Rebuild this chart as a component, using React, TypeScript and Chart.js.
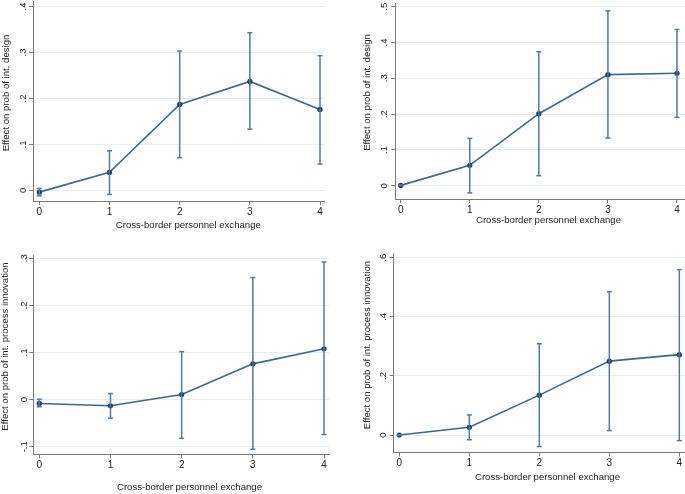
import { useEffect, useRef } from "react";
import { Chart, registerables } from "chart.js";

Chart.register(...registerables);

// x categories: number of cross-border personnel exchange types
const exchangeLevels = [0, 1, 2, 3, 4];

// top left: int. design
const design1Est = [-0.004, 0.039, 0.187, 0.237, 0.176];
const design1Lo = [-0.012, -0.009, 0.071, 0.133, 0.057];
const design1Hi = [0.004, 0.086, 0.303, 0.343, 0.293];
const design1Ticks = [0, 0.1, 0.2, 0.3, 0.4];

// top right: int. design
const design2Est = [0.001, 0.057, 0.201, 0.31, 0.314];
const design2Lo = [0.0, -0.02, 0.028, 0.133, 0.191];
const design2Hi = [0.002, 0.132, 0.374, 0.488, 0.436];
const design2Ticks = [0, 0.1, 0.2, 0.3, 0.4, 0.5];

// bottom left: int. process innovation
const process1Est = [-0.008, -0.013, 0.011, 0.076, 0.108];
const process1Lo = [-0.015, -0.039, -0.082, -0.105, -0.074];
const process1Hi = [0.001, 0.013, 0.102, 0.259, 0.292];
const process1Ticks = [-0.1, 0, 0.1, 0.2, 0.3];

// bottom right: int. process innovation
const process2Est = [0.0, 0.026, 0.135, 0.25, 0.272];
const process2Lo = [-0.001, -0.016, -0.039, 0.015, -0.019];
const process2Hi = [0.001, 0.068, 0.309, 0.485, 0.56];
const process2Ticks = [0, 0.2, 0.4, 0.6];

const xTitle = "Cross-border personnel exchange";
const designTitle = "Effect on prob of int. design";
const processTitle = "Effect on prob of int. process innovation";

const W = 685, H = 494;
const FONT = "'Liberation Sans', Arial, Helvetica, sans-serif";
const lineCol = "#3d6793";
const dotCol = "#1b3c68";
const barCol = "#5279a2";
const axisCol = "#7a7a7a";
const gridCol = "#e4eef2";
const textCol = "#222";

// stata style: ".1", "-.1", "0"
const stataNum = (v: number) => {
  if (Math.abs(v) < 1e-9) return "0";
  const s = String(Math.round(Math.abs(v) * 100) / 100).replace(/^0/, "");
  return (v < 0 ? "-" : "") + s;
};

type Panel = {
  est: number[]; lo: number[]; hi: number[]; yTicks: number[]; yTitle: string;
  axisX: number; topY: number; rightX: number; axisY: number;
  xMin: number; xMax: number; yMin: number; yMax: number;
  tickX: number; titleX: number; titleY: number; xTitleX: number; xTitleY: number;
};

const panels: Panel[] = [
  { est: design1Est, lo: design1Lo, hi: design1Hi, yTicks: design1Ticks, yTitle: designTitle,
    axisX: 33, topY: 1, rightX: 324.5, axisY: 201, xMin: -0.09, xMax: 4.064, yMin: -0.0233, yMax: 0.412,
    tickX: 23, titleX: 6, titleY: 93, xTitleX: 188.3, xTitleY: 225.3 },
  { est: design2Est, lo: design2Lo, hi: design2Hi, yTicks: design2Ticks, yTitle: designTitle,
    axisX: 395.3, topY: 3, rightX: 685, axisY: 199, xMin: -0.078, xMax: 4.116, yMin: -0.037, yMax: 0.51,
    tickX: 384.7, titleX: 367, titleY: 92.5, xTitleX: 548.5, xTitleY: 220.7 },
  { est: process1Est, lo: process1Lo, hi: process1Hi, yTicks: process1Ticks, yTitle: processTitle,
    axisX: 33.3, topY: 255, rightX: 329.3, axisY: 454.3, xMin: -0.084, xMax: 4.074, yMin: -0.1158, yMax: 0.3068,
    tickX: 24, titleX: 5, titleY: 346.5, xTitleX: 189.5, xTitleY: 487.7 },
  { est: process2Est, lo: process2Lo, hi: process2Hi, yTicks: process2Ticks, yTitle: processTitle,
    axisX: 393.7, topY: 253.3, rightX: 685, axisY: 452.3, xMin: -0.08, xMax: 4.081, yMin: -0.0585, yMax: 0.615,
    tickX: 383.7, titleX: 367, titleY: 345, xTitleX: 547.5, xTitleY: 477.5 },
];

function PanelChart({ p }: { p: Panel }) {
  const ref = useRef<HTMLCanvasElement | null>(null);
  useEffect(() => {
    if (!ref.current) return;
    const bars = exchangeLevels.map((x, i) => ({
      data: [{ x, y: p.lo[i] }, { x, y: p.hi[i] }],
      showLine: true,
      borderColor: barCol,
      borderWidth: 1.5,
      pointStyle: "line" as const,
      pointRadius: 2.5,
      pointBorderColor: barCol,
      pointBorderWidth: 1.5,
      clip: false as const,
    }));
    // rotated y tick labels + axis titles, placed like stata does
    const stataText = {
      id: "stataText",
      afterDraw(chart: any) {
        const ctx = chart.ctx, sc = chart.scales.y;
        ctx.save();
        ctx.fillStyle = textCol;
        ctx.font = `9.6px ${FONT}`;
        ctx.textAlign = "center";
        ctx.textBaseline = "middle";
        ctx.fillText(xTitle, p.xTitleX, p.xTitleY);
        p.yTicks.forEach(v => {
          ctx.save();
          ctx.translate(p.tickX, sc.getPixelForValue(v));
          ctx.rotate(-Math.PI / 2);
          ctx.fillText(stataNum(v), 0, 0);
          ctx.restore();
        });
        ctx.translate(p.titleX, p.titleY);
        ctx.rotate(-Math.PI / 2);
        ctx.fillText(p.yTitle, 0, 0);
        ctx.restore();
      },
    };
    const xScaleH = 20;
    const ch = new Chart(ref.current, {
      type: "scatter",
      data: {
        datasets: [
          ...bars,
          {
            data: exchangeLevels.map((x, i) => ({ x, y: p.est[i] })),
            showLine: true,
            borderColor: lineCol,
            borderWidth: 1.6,
            pointRadius: 2.6,
            pointBackgroundColor: dotCol,
            pointBorderColor: dotCol,
            pointBorderWidth: 0,
            clip: false,
          },
        ],
      },
      options: {
        animation: false,
        responsive: false,
        events: [],
        layout: {
          autoPadding: false,
          padding: { left: 0, top: p.topY, right: W - p.rightX, bottom: H - p.axisY - xScaleH },
        },
        plugins: { legend: { display: false }, tooltip: { enabled: false } },
        scales: {
          x: {
            type: "linear",
            min: p.xMin, max: p.xMax,
            afterBuildTicks: (s: any) => { s.ticks = exchangeLevels.map(v => ({ value: v })); },
            afterFit: (s: any) => { s.height = xScaleH; },
            ticks: { color: textCol, font: { size: 10, family: FONT }, padding: 1, maxRotation: 0, callback: (v: any) => String(v) },
            grid: { drawOnChartArea: false, drawTicks: true, tickLength: 4, tickColor: axisCol },
            border: { display: true, color: axisCol, width: 1 },
          },
          y: {
            type: "linear",
            min: p.yMin, max: p.yMax,
            afterBuildTicks: (s: any) => { s.ticks = p.yTicks.map(v => ({ value: v })); },
            afterFit: (s: any) => { s.width = p.axisX; },
            ticks: { display: false },
            grid: { color: gridCol, lineWidth: 1, drawTicks: true, tickLength: 4, tickColor: axisCol },
            border: { display: true, color: axisCol, width: 1 },
          },
        },
      },
      plugins: [stataText],
    });
    return () => ch.destroy();
  }, [p]);
  return (
    <canvas ref={ref} width={W} height={H}
      style={{ position: "absolute", left: 0, top: 0, width: W, height: H }} />
  );
}

export default function App() {
  return (
    <div style={{ position: "fixed", left: 0, top: 0, width: W, height: H, background: "#fff", overflow: "hidden" }}>
      {panels.map((p, i) => <PanelChart key={i} p={p} />)}
    </div>
  );
}
